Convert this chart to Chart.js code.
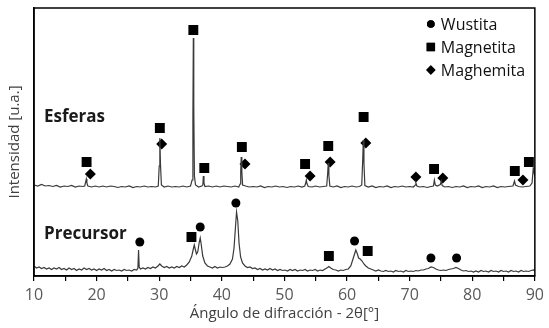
<!DOCTYPE html>
<html>
<head>
<meta charset="utf-8">
<script src="https://cdn.jsdelivr.net/npm/chart.js@4"></script>
<style>
  html, body { margin: 0; padding: 0; background: #fff; }
  #wrap { width: 549px; height: 328px; }
</style>
</head>
<body>
<div id="wrap"><canvas id="xrd" width="549" height="328"></canvas></div>
<script>
// Difractogramas (2θ en grados, intensidad en u.a. relativas)
const esferasAngles = [10.0, 10.6, 11.2, 11.8, 12.4, 13.0, 13.6, 14.2, 14.8, 15.4, 16.0, 16.6, 17.2, 17.8, 18.1, 18.25, 18.35, 18.45, 18.6, 19.2, 19.8, 20.4, 21.0, 21.6, 22.2, 22.8, 23.4, 24.0, 24.6, 25.2, 25.8, 26.4, 27.0, 27.6, 28.2, 28.8, 29.4, 29.85, 30.0, 30.1, 30.2, 30.35, 30.8, 31.4, 32.0, 32.6, 33.2, 33.8, 34.4, 35.0, 35.25, 35.38, 35.45, 35.52, 35.62, 35.8, 36.3, 36.8, 36.97, 37.05, 37.15, 37.3, 37.9, 38.5, 39.1, 39.7, 40.3, 40.9, 41.5, 42.1, 42.7, 42.92, 43.02, 43.1, 43.2, 43.32, 43.8, 44.4, 45.0, 45.6, 46.2, 46.8, 47.4, 48.0, 48.6, 49.2, 49.8, 50.4, 51.0, 51.6, 52.2, 52.8, 53.25, 53.4, 53.5, 53.62, 53.8, 54.4, 55.0, 55.6, 56.2, 56.75, 56.9, 57.0, 57.1, 57.25, 57.8, 58.4, 59.0, 59.6, 60.2, 60.8, 61.4, 62.0, 62.35, 62.5, 62.6, 62.7, 62.85, 63.4, 64.0, 64.6, 65.2, 65.8, 66.4, 67.0, 67.6, 68.2, 68.8, 69.4, 70.0, 70.6, 70.9, 71.0, 71.15, 71.6, 72.2, 72.8, 73.4, 73.8, 73.95, 74.1, 74.4, 74.9, 75.05, 75.2, 75.6, 76.2, 76.8, 77.4, 78.0, 78.6, 79.2, 79.8, 80.4, 81.0, 81.6, 82.2, 82.8, 83.4, 84.0, 84.6, 85.2, 85.8, 86.5, 86.75, 86.9, 87.4, 88.0, 88.6, 89.2, 89.55, 89.75, 89.85, 90.0];
const esferasCounts = [91, 90, 91.5, 90, 90.5, 89.5, 90.5, 89, 90, 89.5, 90.5, 89, 90, 89.5, 90, 94, 97, 93, 90, 89, 90, 89, 90, 89, 90, 89.5, 88.5, 89.5, 89, 90, 88.5, 89.5, 89, 90, 89, 89.5, 89, 90, 110, 138, 112, 91, 89, 90, 89, 89.5, 89, 90, 89, 90, 96, 160, 238, 170, 100, 91, 89, 90, 91, 100, 93, 89.5, 90, 89, 90, 89, 90, 89.5, 89, 90, 89, 92, 105, 119, 104, 91, 90, 89, 89.5, 89, 90, 88.5, 89.5, 89, 90, 89, 89.5, 88.5, 89.5, 89, 90, 89, 90, 93, 96, 92, 89.5, 89, 90, 89, 89.5, 90, 102, 113, 101, 90, 89, 90, 88.5, 89.5, 89, 90, 89, 89.5, 91, 115, 136, 113, 90.5, 89, 90, 88.5, 89.5, 89, 90, 88.5, 89.5, 89, 90, 89, 89.5, 89, 91, 93, 90, 89, 89.5, 88.5, 89.5, 90, 96, 91, 90, 91.5, 95, 90.5, 89, 89.5, 88.5, 89.5, 89, 90, 88.5, 89.5, 89, 90, 88.5, 89.5, 89, 90, 88.5, 89.5, 89, 89.5, 90, 95, 91, 89.5, 89, 89.5, 90, 93, 108, 104, 100];

const precursorAngles = [10.0, 10.4, 10.8, 11.2, 11.6, 12.0, 12.4, 12.8, 13.2, 13.6, 14.0, 14.4, 14.8, 15.2, 15.6, 16.0, 16.4, 16.8, 17.2, 17.6, 18.0, 18.4, 18.8, 19.2, 19.6, 20.0, 20.4, 20.8, 21.2, 21.6, 22.0, 22.4, 22.8, 23.2, 23.6, 24.0, 24.4, 24.8, 25.2, 25.6, 26.0, 26.4, 26.6, 26.7, 26.8, 27.0, 27.4, 27.8, 28.2, 28.6, 29.0, 29.4, 29.8, 30.1, 30.4, 30.8, 31.2, 31.6, 32.0, 32.4, 32.8, 33.2, 33.6, 34.0, 34.4, 34.8, 35.2, 35.45, 35.6, 35.75, 35.95, 36.15, 36.4, 36.55, 36.7, 36.95, 37.3, 37.7, 38.1, 38.5, 38.9, 39.3, 39.7, 40.1, 40.5, 40.9, 41.3, 41.7, 41.95, 42.15, 42.35, 42.55, 42.75, 43.0, 43.3, 43.7, 44.1, 44.5, 44.9, 45.3, 45.7, 46.1, 46.5, 46.9, 47.3, 47.7, 48.1, 48.5, 48.9, 49.3, 49.7, 50.1, 50.5, 50.9, 51.3, 51.7, 52.1, 52.5, 52.9, 53.3, 53.7, 54.1, 54.5, 54.9, 55.3, 55.7, 56.1, 56.5, 56.9, 57.1, 57.4, 57.8, 58.2, 58.6, 59.0, 59.4, 59.8, 60.2, 60.6, 60.9, 61.2, 61.4, 61.6, 61.85, 62.1, 62.4, 62.7, 63.0, 63.4, 63.8, 64.2, 64.6, 65.0, 65.4, 65.8, 66.2, 66.6, 67.0, 67.4, 67.8, 68.2, 68.6, 69.0, 69.4, 69.8, 70.2, 70.6, 71.0, 71.4, 71.8, 72.2, 72.6, 73.0, 73.4, 73.8, 74.2, 74.6, 75.0, 75.4, 75.8, 76.2, 76.6, 77.0, 77.4, 77.8, 78.2, 78.6, 79.0, 79.4, 79.8, 80.2, 80.6, 81.0, 81.4, 81.8, 82.2, 82.6, 83.0, 83.4, 83.8, 84.2, 84.6, 85.0, 85.4, 85.8, 86.2, 86.6, 87.0, 87.4, 87.8, 88.2, 88.6, 89.0, 89.4, 89.8, 90.0];
const precursorCounts = [10, 8, 9, 7.5, 8.5, 7, 8, 6.5, 8, 7, 8.5, 6.5, 7.5, 6, 8, 6.5, 7.5, 5.5, 7, 6, 8, 6.5, 7.5, 6, 7, 5.5, 7, 6, 7.5, 5.5, 6.5, 5, 6.5, 5.5, 6, 5, 6.5, 5.5, 6, 5, 6.5, 6, 8, 26, 9, 7, 8, 7, 8.5, 7.5, 9, 8, 10, 12, 10, 8.5, 9.5, 8, 9, 8, 9.5, 8.5, 10, 9, 11, 14, 20, 27, 31, 27, 22, 24, 34, 38, 32, 20, 13, 10, 9, 8, 9.5, 8, 9, 8.5, 9, 10, 12, 17, 28, 46, 64, 55, 33, 19, 13, 10, 8.5, 9, 7.5, 8, 6.5, 7.5, 6, 7, 6, 7.5, 6, 7, 5.5, 6.5, 5.5, 6, 5, 6.5, 5.5, 6.5, 5, 6, 5.5, 6.5, 5, 6, 5.5, 6.5, 5, 6, 5.5, 7, 8.5, 9.5, 8, 6.5, 6, 5, 6, 5.5, 6.5, 7, 10, 16, 22, 26, 23, 18, 17, 15, 12, 10, 8, 7, 6, 5, 6, 5, 4.5, 5.5, 4.5, 5, 4, 5.5, 4.5, 5, 4, 5.5, 4.5, 5, 4.5, 5.5, 5, 6, 6, 7, 7.5, 9, 8.5, 7, 6, 5.5, 6, 5.5, 6.5, 7, 7.5, 8.5, 7.5, 6, 5, 5.5, 4.5, 5, 4, 5, 4, 5.5, 4.5, 5, 4, 5.5, 4.5, 5, 4, 5.5, 4.5, 5, 4, 5.5, 4.5, 5, 4, 5.5, 4.5, 5, 4.5, 5.5, 6, 5];

// Marcadores de fases
const wustitaAngles = [26.9, 36.55, 42.25, 61.2, 73.4, 77.5];
const wustitaLevels = [34, 49, 73, 35, 18, 18];
const magnetitaAngles = [18.4, 30.1, 35.45, 37.2, 43.2, 53.3, 57.0, 62.65, 73.9, 86.8, 89.05, 35.15, 57.1, 63.3];
const magnetitaLevels = [114, 148, 246, 108, 129, 112, 130, 159, 107, 105, 114, 39, 20, 25];
const maghemitaAngles = [19.0, 30.4, 43.7, 54.1, 57.3, 63.0, 71.0, 75.3, 88.1];
const maghemitaLevels = [102, 132, 112, 100, 114, 133, 99, 98, 96];

const xTicks = [10, 20, 30, 40, 50, 60, 70, 80, 90];

const toPoints = (xs, ys) => xs.map((x, i) => ({ x: x, y: ys[i] }));

const FONT = "'Open Sans', 'DejaVu Sans', sans-serif";

const phases = [
    { label: 'Wustita', xs: wustitaAngles, ys: wustitaLevels, style: 'circle', r: 4.5 },
    { label: 'Magnetita', xs: magnetitaAngles, ys: magnetitaLevels, style: 'rect', r: 7 },
    { label: 'Maghemita', xs: maghemitaAngles, ys: maghemitaLevels, style: 'rectRot', r: 5.5 }
];

// Marco completo, etiquetas de muestra y leyenda dentro del área
const framePlugin = {
    id: 'frame',
    afterDatasetsDraw(chart) {
        const { ctx, chartArea: a, scales } = chart;
        ctx.save();
        ctx.strokeStyle = '#000';
        ctx.lineWidth = 1.5;
        ctx.strokeRect(a.left, a.top, a.right - a.left, a.bottom - a.top);

        ctx.fillStyle = '#1a1a1a';
        ctx.font = 'bold 17px ' + FONT;
        ctx.textAlign = 'left';
        ctx.textBaseline = 'middle';
        ctx.fillText('Esferas', scales.x.getPixelForValue(11.6), scales.y.getPixelForValue(159));
        ctx.fillText('Precursor', scales.x.getPixelForValue(11.6), scales.y.getPixelForValue(42));

        ctx.font = '16px ' + FONT;
        const mx = a.right - 104;
        phases.forEach((p, i) => {
            const my = a.top + 16 + i * 23;
            ctx.fillStyle = '#000';
            Chart.helpers.drawPoint(ctx, { pointStyle: p.style, radius: p.r * 0.85, rotation: 0, borderWidth: 0 }, mx, my);
            ctx.fill();
            ctx.fillStyle = '#111';
            ctx.fillText(p.label, mx + 10, my + 1);
        });
        ctx.restore();
    }
};

const datasets = [
    { data: toPoints(esferasAngles, esferasCounts) },
    { data: toPoints(precursorAngles, precursorCounts) }
].map(d => Object.assign(d, {
    showLine: true,
    borderColor: '#3a3a3a',
    borderWidth: 1.2,
    pointRadius: 0,
    tension: 0
}));

phases.forEach(p => {
    datasets.push({
        label: p.label,
        data: toPoints(p.xs, p.ys),
        showLine: false,
        pointStyle: p.style,
        pointRadius: p.r,
        backgroundColor: '#000',
        borderWidth: 0
    });
});

new Chart(document.getElementById('xrd'), {
    type: 'scatter',
    data: { datasets: datasets },
    options: {
        responsive: false,
        animation: false,
        devicePixelRatio: 1,
        layout: { padding: { top: 8, right: 9, bottom: 0, left: 0 } },
        plugins: { legend: { display: false }, tooltip: { enabled: false } },
        scales: {
            x: {
                type: 'linear',
                min: 10,
                max: 90,
                afterFit: s => { s.height = 52; },
                afterBuildTicks: s => {
                    s.ticks = [];
                    for (let v = 10; v <= 90; v += 5) s.ticks.push({ value: v });
                },
                ticks: {
                    autoSkip: false,
                    maxRotation: 0,
                    padding: 5,
                    color: '#595959',
                    font: { family: FONT, size: 16 },
                    callback: v => xTicks.includes(v) ? String(v) : ''
                },
                grid: { drawOnChartArea: false, color: '#000', lineWidth: 1.2, tickLength: 5 },
                border: { display: true, color: '#000', width: 1.5 },
                title: {
                    display: true,
                    text: 'Ángulo de difracción - 2θ[°]',
                    color: '#404040',
                    font: { family: FONT, size: 15 },
                    padding: { top: 0, bottom: 5 }
                }
            },
            y: {
                min: 0,
                max: 268,
                afterFit: s => { s.width = 34; },
                ticks: { display: false },
                grid: { display: false },
                border: { display: true, color: '#000', width: 1.5 },
                title: {
                    display: true,
                    text: 'Intensidad [u.a.]',
                    color: '#404040',
                    font: { family: FONT, size: 15 },
                    padding: { top: 6, bottom: 0 }
                }
            }
        }
    },
    plugins: [framePlugin]
});
</script>
</body>
</html>
